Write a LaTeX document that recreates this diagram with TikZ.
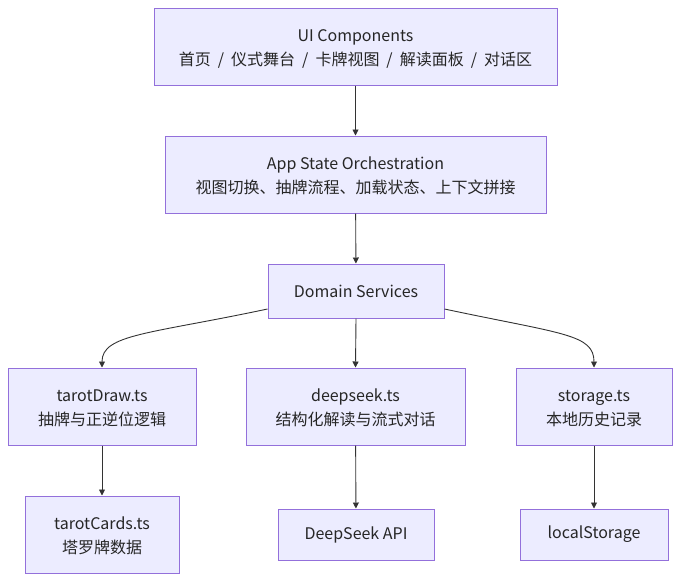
\documentclass[tikz,border=0pt]{standalone}
\usepackage{fontspec}
\setmainfont{Noto Sans CJK SC}
\usetikzlibrary{arrows.meta}
\definecolor{boxfill}{HTML}{ECECFF}
\definecolor{boxline}{HTML}{9370DB}
\definecolor{edge}{HTML}{333333}
\newcommand{\slsep}{\hspace{7pt}/\hspace{7pt}}
\newcommand{\twolines}[2]{\raisebox{-2.5pt}[\height][\depth]{\begin{tabular}{@{}c@{}}#1\\#2\end{tabular}}}
\tikzset{
  mbox/.style={draw=boxline, fill=boxfill, line width=1pt, inner sep=0pt, align=center,
    font=\fontsize{16}{24}\selectfont, text=black!85},
  conn/.style={draw=edge, line width=0.9pt, -{Triangle[length=6pt,width=6pt]}}
}
\begin{document}
\begin{tikzpicture}[x=1pt,y=-1pt]
\useasboundingbox (0,0) rectangle (680,582);
\node[mbox, minimum width=403pt, minimum height=77pt] (ui) at (355.5,46.5) {\twolines{UI Components}{首页\slsep{}仪式舞台\slsep{}卡牌视图\slsep{}解读面板\slsep{}对话区}};
\node[mbox, minimum width=381pt, minimum height=77pt] (app) at (355.5,174.5) {\twolines{App State Orchestration}{视图切换、抽牌流程、加载状态、上下文拼接}};
\node[mbox, minimum width=176pt, minimum height=54pt] (dom) at (356,291) {Domain Services};
\node[mbox, minimum width=188pt, minimum height=77pt] (draw) at (102,406.5) {\twolines{tarotDraw.ts}{抽牌与正逆位逻辑}};
\node[mbox, minimum width=219pt, minimum height=77pt] (ds) at (355.5,406.5) {\twolines{deepseek.ts}{结构化解读与流式对话}};
\node[mbox, minimum width=156pt, minimum height=77pt] (st) at (594,406.5) {\twolines{storage.ts}{本地历史记录}};
\node[mbox, minimum width=154pt, minimum height=77pt] (cards) at (102,534.5) {\twolines{tarotCards.ts}{塔罗牌数据}};
\node[mbox, minimum width=156pt, minimum height=51pt] (api) at (356,534.5) {DeepSeek API};
\node[mbox, minimum width=148pt, minimum height=51pt] (ls) at (594,534.5) {localStorage};
\draw[conn] (ui) -- (app);
\draw[conn] (app) -- (dom);
\draw[conn] (dom.south) -- (ds.north);
\draw[conn] (dom.south west |- 0,309) .. controls (150,334) and (102,334) .. (draw.north);
\draw[conn] (dom.south east |- 0,309) .. controls (562,334) and (594,334) .. (st.north);
\draw[conn] (draw) -- (cards);
\draw[conn] (ds) -- (api);
\draw[conn] (st) -- (ls);
\end{tikzpicture}
\end{document}
